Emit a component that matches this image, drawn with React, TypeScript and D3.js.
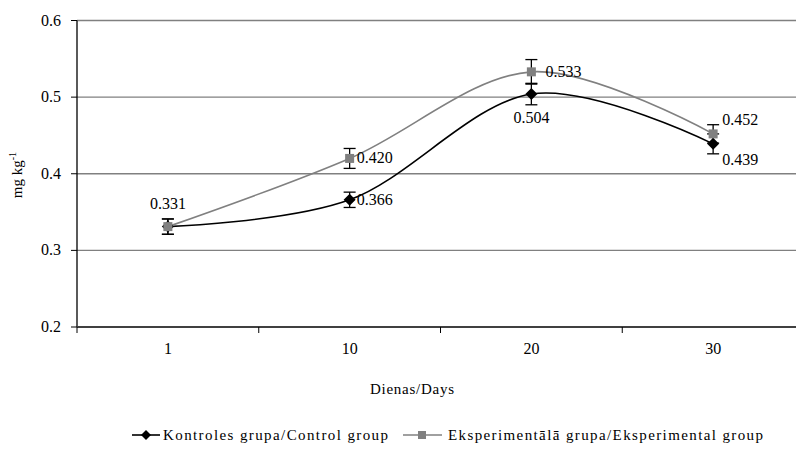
import React from 'react'
import * as d3 from 'd3'

const days = ['1', '10', '20', '30']
const controlValues = [0.331, 0.366, 0.504, 0.439]
const controlErrors = [0.01, 0.01, 0.014, 0.013]
const expValues = [0.331, 0.42, 0.533, 0.452]
const expErrors = [0.01, 0.013, 0.016, 0.012]
const yTicks = [0.2, 0.3, 0.4, 0.5, 0.6]
const controlName = 'Kontroles grupa/Control group'
const expName = 'Eksperimentālā grupa/Eksperimental group'

const width = 796
const height = 451
const font =
  "'Liberation Serif', 'Times New Roman', Times, Tinos, 'Nimbus Roman', 'Noto Serif', 'DejaVu Serif', serif"
const grey = '#808080'

const App = () => {
  const x = d3.scaleBand().domain(days).range([77, 804]).padding(0)
  const y = d3.scaleLinear().domain([0.2, 0.6]).range([327, 20.5])
  const cx = (d: string) => (x(d) as number) + x.bandwidth() / 2

  const line = d3
    .line<number>()
    .x((d, i) => cx(days[i]))
    .y((d) => y(d))
    .curve(d3.curveCardinal.tension(0))

  // label placement for each point: [dx, dy, anchor]
  const controlLabelPos: [number, number, string][] = [
    [0, 0, 'none'],
    [7, 5, 'start'],
    [0, 29, 'middle'],
    [9, 21, 'start'],
  ]
  const expLabelPos: [number, number, string][] = [
    [0, -18, 'middle'],
    [7, 5, 'start'],
    [14, 5, 'start'],
    [9, -9, 'start'],
  ]

  const errorBars = (vals: number[], errs: number[]) =>
    vals.map((v, i) => {
      const px = cx(days[i])
      const top = y(v + errs[i])
      const bot = y(v - errs[i])
      return (
        <g key={i} stroke="#000" strokeWidth={1.3}>
          <line x1={px} x2={px} y1={top} y2={bot} />
          <line x1={px - 6} x2={px + 6} y1={top} y2={top} />
          <line x1={px - 6} x2={px + 6} y1={bot} y2={bot} />
        </g>
      )
    })

  const diamond = (px: number, py: number, r: number) =>
    `M${px},${py - r}L${px + r},${py}L${px},${py + r}L${px - r},${py}Z`

  return (
    <svg
      width={width}
      height={height}
      style={{ position: 'absolute', left: 0, top: 0, background: '#fff' }}
    >
      <g fontFamily={font}>
        {/* gridlines */}
        {yTicks.slice(1).map((t) => (
          <line key={t} x1={77} x2={width} y1={y(t)} y2={y(t)} stroke={grey} strokeWidth={1.3} />
        ))}
        {/* y axis */}
        <line x1={77} x2={77} y1={y(0.6)} y2={y(0.2)} stroke="#000" strokeWidth={1.3} />
        {yTicks.map((t) => (
          <g key={t}>
            <line x1={71} x2={77} y1={y(t)} y2={y(t)} stroke="#000" strokeWidth={1} />
            <text x={61} y={y(t) + 5} textAnchor="end" fontSize={16}>
              {t.toFixed(1)}
            </text>
          </g>
        ))}
        {/* x axis */}
        <line x1={77} x2={width} y1={y(0.2)} y2={y(0.2)} stroke="#404040" strokeWidth={2} />
        {days.map((d) => (
          <g key={d}>
            <line x1={x(d)} x2={x(d)} y1={y(0.2)} y2={y(0.2) + 6} stroke="#000" strokeWidth={1} />
            <text x={cx(d)} y={y(0.2) + 27} textAnchor="middle" fontSize={16}>
              {d}
            </text>
          </g>
        ))}
        <line
          x1={(x('30') as number) + x.bandwidth()}
          x2={(x('30') as number) + x.bandwidth()}
          y1={y(0.2)}
          y2={y(0.2) + 6}
          stroke="#000"
        />

        <text x={412} y={394} textAnchor="middle" fontSize={15} textLength={84} lengthAdjust="spacing">
          Dienas/Days
        </text>
        <text transform="translate(22,175) rotate(-90)" textAnchor="middle" fontSize={15}>
          mg kg<tspan dy={-6} fontSize={10}>-1</tspan>
        </text>

        {/* series */}
        <path d={line(controlValues) || ''} fill="none" stroke="#000" strokeWidth={1.6} />
        <path d={line(expValues) || ''} fill="none" stroke={grey} strokeWidth={1.6} />
        {errorBars(controlValues, controlErrors)}
        {errorBars(expValues, expErrors)}
        {controlValues.map((v, i) => (
          <path key={i} d={diamond(cx(days[i]), y(v), 6)} fill="#000" />
        ))}
        {expValues.map((v, i) => (
          <rect key={i} x={cx(days[i]) - 4.5} y={y(v) - 4.5} width={9} height={9} fill={grey} />
        ))}

        {/* data labels */}
        {controlValues.map((v, i) =>
          controlLabelPos[i][2] === 'none' ? null : (
            <text
              key={i}
              x={cx(days[i]) + controlLabelPos[i][0]}
              y={y(v) + controlLabelPos[i][1]}
              textAnchor={controlLabelPos[i][2]}
              fontSize={16}
            >
              {v.toFixed(3)}
            </text>
          )
        )}
        {expValues.map((v, i) => (
          <text
            key={i}
            x={cx(days[i]) + expLabelPos[i][0]}
            y={y(v) + expLabelPos[i][1]}
            textAnchor={expLabelPos[i][2]}
            fontSize={16}
          >
            {v.toFixed(3)}
          </text>
        ))}

        {/* legend */}
        <g transform="translate(0,435)">
          <line x1={132} x2={160} y1={0} y2={0} stroke="#000" strokeWidth={1.6} />
          <path d={diamond(146, 0, 5)} fill="#000" />
          <text x={163} y={5} fontSize={15} textLength={225} lengthAdjust="spacing">
            {controlName}
          </text>
          <line x1={403} x2={442} y1={0} y2={0} stroke={grey} strokeWidth={1.6} />
          <rect x={418} y={-4} width={8} height={8} fill={grey} />
          <text x={448} y={5} fontSize={15} textLength={315} lengthAdjust="spacing">
            {expName}
          </text>
        </g>
      </g>
    </svg>
  )
}

export default App
